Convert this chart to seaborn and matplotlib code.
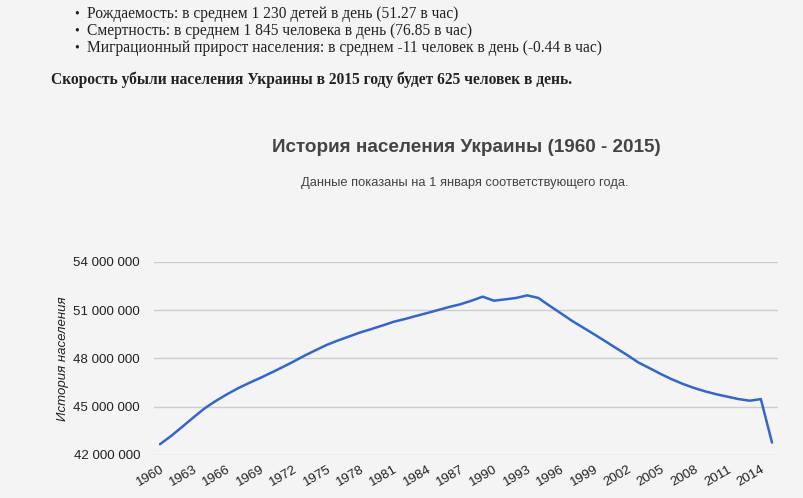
import matplotlib
matplotlib.use("Agg")
import matplotlib.pyplot as plt
import seaborn as sns
import pandas as pd
from matplotlib.ticker import FuncFormatter

years = list(range(1960, 2016))
population_millions = [
    42.67, 43.18, 43.75, 44.33, 44.89, 45.35, 45.76, 46.14, 46.47, 46.78,
    47.11, 47.45, 47.80, 48.17, 48.51, 48.84, 49.11, 49.36, 49.61, 49.82,
    50.04, 50.27, 50.44, 50.63, 50.81, 51.00, 51.19, 51.36, 51.58, 51.83,
    51.58, 51.66, 51.75, 51.91, 51.75, 51.27, 50.81, 50.34, 49.92, 49.50,
    49.07, 48.63, 48.20, 47.74, 47.39, 47.03, 46.70, 46.41, 46.16, 45.95,
    45.77, 45.62, 45.47, 45.37, 45.47, 42.77,
]
population = [v * 1_000_000 for v in population_millions]
xtick_years = list(range(1960, 2015, 3))
ytick_values = [42_000_000, 45_000_000, 48_000_000, 51_000_000, 54_000_000]

bullets = [
    "Рождаемость: в среднем 1 230 детей в день (51.27 в час)",
    "Смертность: в среднем 1 845 человека в день (76.85 в час)",
    "Миграционный прирост населения: в среднем -11 человек в день (-0.44 в час)",
]
bold_line = "Скорость убыли населения Украины в 2015 году будет 625 человек в день."
title = "История населения Украины (1960 - 2015)"
subtitle = "Данные показаны на 1 января соответствующего года."
ylabel = "История населения"

BG = "#f4f4f4"
sns.set_theme(style="white")
plt.rcParams["font.family"] = ["Liberation Sans", "DejaVu Sans"]

fig = plt.figure(figsize=(8.04, 4.98), dpi=100, facecolor=BG)
W, H = 804, 498
ax = fig.add_axes([154 / W, 1 - 455 / H, (778 - 154) / W, (455 - 261.7) / H])
ax.set_facecolor(BG)

df = pd.DataFrame({"year": years, "population": population})
sns.lineplot(data=df, x="year", y="population", ax=ax, color="#3366cc", linewidth=1.8)

ax.set_xlim(1960 - 6 / 11.13, 2015 + 6 / 11.13)
ax.set_ylim(42_000_000, 54_000_000)
ax.set_yticks(ytick_values)
ax.yaxis.set_major_formatter(FuncFormatter(lambda v, p: f"{int(v):,}".replace(",", " ")))
ax.set_xticks(xtick_years)
ax.set_xticklabels([str(y) for y in xtick_years], rotation=30, ha="right",
                   rotation_mode="anchor")
ax.tick_params(axis="both", length=0, labelsize=9.6, labelcolor="#222222")
ax.tick_params(axis="y", pad=10)
ax.tick_params(axis="x", pad=6)
ax.grid(axis="y", color="#cccccc", linewidth=1)
ax.grid(axis="x", visible=False)
for s in ax.spines.values():
    s.set_visible(False)
ax.set_xlabel("")
ax.set_ylabel(ylabel, fontsize=9.5, style="italic", color="#222222", labelpad=3)

serif = ["Liberation Serif", "DejaVu Serif"]
for i, b in enumerate(bullets):
    y = 14 + i * 17
    fig.text(77 / W, 1 - y / H, "•", fontsize=10, family=serif, va="center",
             ha="center", color="#222222")
    fig.text(87 / W, 1 - y / H, b, fontsize=11.2, family=serif, va="center", color="#222222")
fig.text(51 / W, 1 - 80 / H, bold_line, fontsize=11.2, family=serif, weight="bold",
         va="center", color="#222222")

fig.text(466 / W, 1 - 148 / H, title, fontsize=13.6, weight="bold", ha="center",
         va="center", color="#444444")
fig.text(465 / W, 1 - 183 / H, subtitle, fontsize=9.3, ha="center", va="center",
         color="#444444")

fig.savefig("out.png", dpi=100, facecolor=BG)
